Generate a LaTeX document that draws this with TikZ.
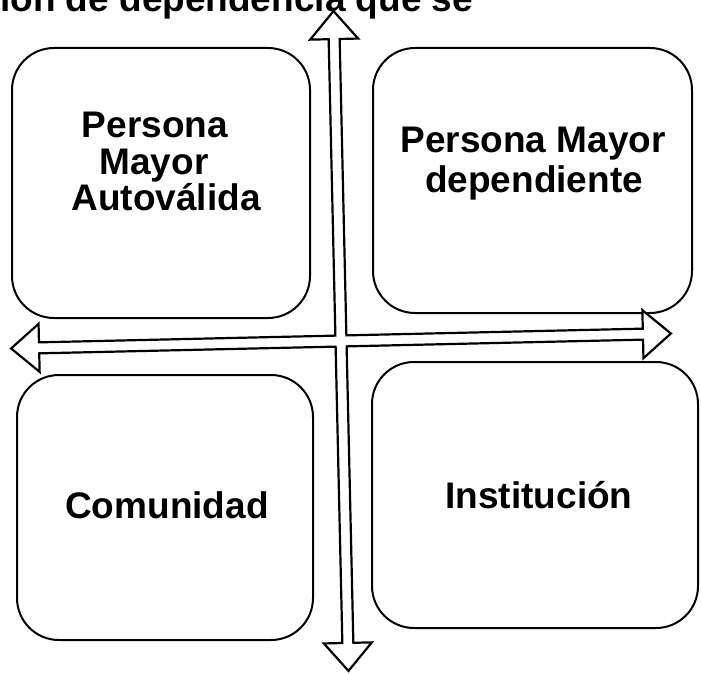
\documentclass[tikz,border=0pt]{standalone}
\usepackage{fontspec}
\setmainfont{Liberation Sans}
\begin{document}
\begin{tikzpicture}[x=1pt,y=-1pt,
  box/.style={draw=black, line width=2pt, rounded corners=42pt, inner sep=0pt, outer sep=0pt},
  lbl/.style={font=\bfseries\fontsize{37}{37}\selectfont, inner sep=0pt, anchor=base},
  crossarrow/.style={draw=black, fill=white, line width=2.2pt, line join=miter}]
\useasboundingbox (0,0) rectangle (701,674);
\node[lbl, anchor=base west] (title) at (0,12) {ión de dependencia que se};
% boxes
\node[box, minimum width=298pt, minimum height=270pt] (tl) at (161,183) {};
\node[box, minimum width=319pt, minimum height=265pt] (tr) at (532.5,180.5) {};
\node[box, minimum width=296pt, minimum height=265pt] (bl) at (165,507.5) {};
\node[box, minimum width=326pt, minimum height=266pt] (br) at (535,495) {};
% labels
\node[lbl] (tl1) at (155,137) {Persona};
\node[lbl] (tl2) at (154,174) {Mayor};
\node[lbl] (tl3) at (166,210) {Autoválida};
\node[lbl] (tr1) at (533,153) {Persona Mayor};
\node[lbl] (tr2) at (534,192) {dependiente};
\node[lbl] (bl1) at (167,518) {Comunidad};
\node[lbl] (br1) at (539,508) {Institución};
% cross-shaped double arrows
\begin{scope}[shift={(341,341)}, rotate=1.3]
\draw[crossarrow]
  (0,-330) -- (24,-302) -- (5.5,-302) -- (5.5,-5.5) -- (302,-5.5) -- (302,-24)
  -- (330,0) -- (302,24) -- (302,5.5) -- (5.5,5.5) -- (5.5,302) -- (24,302)
  -- (0,330) -- (-24,302) -- (-5.5,302) -- (-5.5,5.5) -- (-302,5.5) -- (-302,24)
  -- (-330,0) -- (-302,-24) -- (-302,-5.5) -- (-5.5,-5.5) -- (-5.5,-302) -- (-24,-302)
  -- cycle;
\end{scope}
\end{tikzpicture}
\end{document}
